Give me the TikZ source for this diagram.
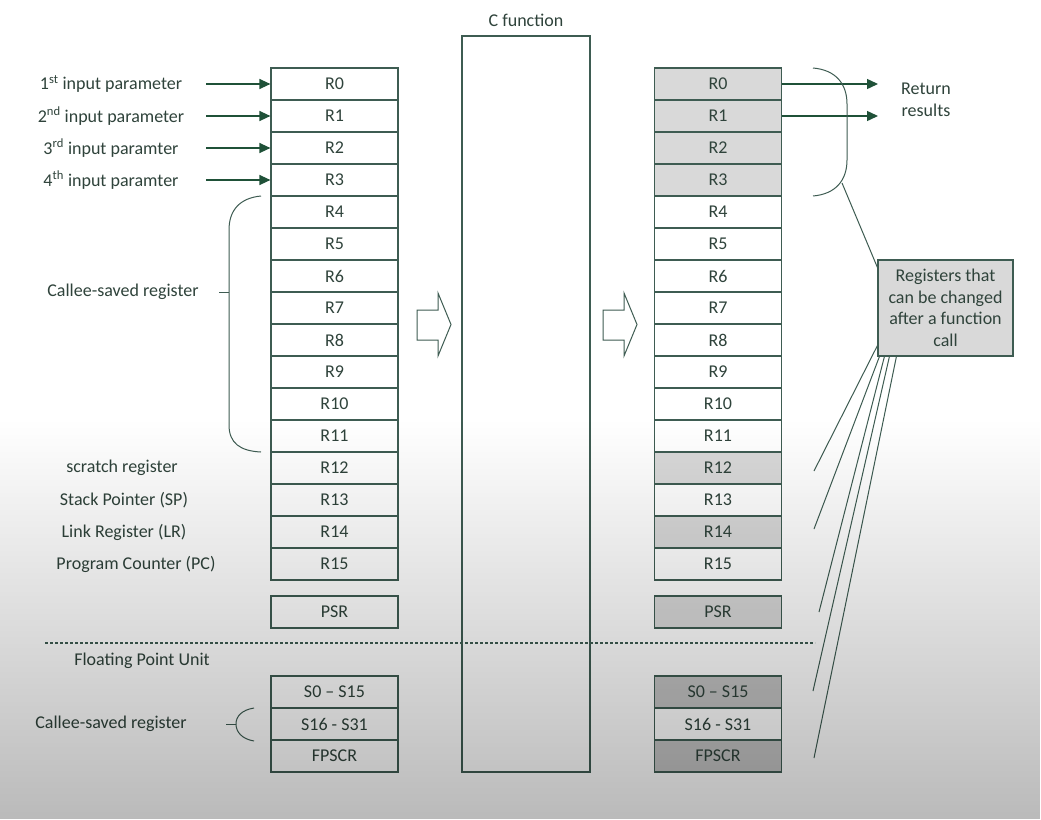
\documentclass[tikz,border=0pt]{standalone}
\usepackage{fontspec}
\setmainfont{Carlito}
\usetikzlibrary{arrows.meta,fadings}
\definecolor{linec}{HTML}{3E5C52}
\definecolor{txtc}{HTML}{2F433B}
\definecolor{arrc}{HTML}{1F5138}
\definecolor{shadeA}{HTML}{D9D9D9}
\definecolor{shadeB}{HTML}{C4C4C4}
\tikzfading[name=fadedown, top color=transparent!100, bottom color=transparent!0]
\begin{document}
\begin{tikzpicture}[x=1pt,y=-1pt,
  every node/.style={text=txtc, font=\fontsize{18}{21.5}\selectfont},
  reg/.style={draw=linec, line width=1.2pt, minimum width=127pt, minimum height=32pt, inner sep=0pt},
  lbl/.style={inner sep=0pt},
  inarrow/.style={draw=arrc, line width=1.4pt, -{Triangle[length=11pt,width=10pt]}},
  guide/.style={draw=linec, line width=1pt},
  hollow/.style={draw=linec, line width=1pt, fill=white, line join=miter}
]
\useasboundingbox (0,0) rectangle (1041,819);
\fill[white] (0,0) rectangle (1041,819);

% C function box
\node[draw=linec, line width=1.2pt, minimum width=128pt, minimum height=736pt, inner sep=0pt, fill=white] (cf) at (526,404) {};
\node[lbl] (cflbl) at (526,20) {C function};

% left register column
\foreach \i in {0,...,15}
  \node[reg, fill=white] (L\i) at (334.5,84+32*\i) {R\i};
\node[reg, fill=white] (LPSR) at (334.5,612) {PSR};
\node[reg, fill=white] (LS0) at (334.5,692) {S0 – S15};
\node[reg, fill=white] (LS16) at (334.5,724) {S16 - S31};
\node[reg, fill=white] (LFP) at (334.5,756) {FPSCR};

% right register column
\foreach \i/\f in {0/shadeA,1/shadeA,2/shadeA,3/shadeA,4/white,5/white,6/white,7/white,8/white,9/white,10/white,11/white,12/shadeA,13/white,14/shadeA,15/white}
  \node[reg, fill=\f] (R\i) at (718,84+32*\i) {R\i};
\node[reg, fill=shadeA] (RPSR) at (718,612) {PSR};
\node[reg, fill=shadeB] (RS0) at (718,692) {S0 – S15};
\node[reg, fill=white] (RS16) at (718,724) {S16 - S31};
\node[reg, fill=shadeB] (RFP) at (718,756) {FPSCR};

% hollow arrows
\draw[hollow] (417,310) -- (438,310) -- (438,293) -- (451,324.5) -- (438,356) -- (438,340) -- (417,340) -- cycle;
\draw[hollow] (603,310) -- (624,310) -- (624,293) -- (637,324.5) -- (624,356) -- (624,340) -- (603,340) -- cycle;

% input parameters
\node[lbl] (p1) at (111,84) {1\textsuperscript{st} input parameter};
\node[lbl] (p2) at (111,116) {2\textsuperscript{nd} input parameter};
\node[lbl] (p3) at (111,148) {3\textsuperscript{rd} input paramter};
\node[lbl] (p4) at (111,180) {4\textsuperscript{th} input paramter};
\foreach \i in {0,...,3} {
  \coordinate (a\i) at (206,84+32*\i);
  \draw[inarrow] (a\i) -- (L\i.west);
}

% left labels
\node[lbl] (cs1) at (123,292) {Callee-saved register};
\node[lbl] (scr) at (122,468) {scratch register};
\node[lbl] (sp) at (124,500) {Stack Pointer (SP)};
\node[lbl] (lr) at (124,532) {Link Register (LR)};
\node[lbl] (pc) at (136,564) {Program Counter (PC)};
\node[lbl] (fpu) at (142,661) {Floating Point Unit};
\node[lbl] (cs2) at (111,724) {Callee-saved register};

% left brace
\draw[guide] (261,196) .. controls (240,198) and (229,210) .. (229,230) -- (229,425) .. controls (229,443) and (240,451) .. (261,452);
\draw[guide] (219,292) -- (229,292);
% small brace
\draw[guide] (254,708) .. controls (242,710) and (236,716) .. (236,724) .. controls (236,732) and (242,739) .. (254,741);
\draw[guide] (226,724) -- (236,724);

% dashed separator
\coordinate (d1) at (45,643);
\coordinate (d2) at (815,643);
\draw[draw=linec, line width=1.2pt, dash pattern=on 3pt off 2pt] (d1) -- (d2);

% return results
\coordinate (ret0) at (878,84);
\coordinate (ret1) at (878,116);
\draw[inarrow] (R0.east) -- (ret0);
\draw[inarrow] (R1.east) -- (ret1);
\node[lbl, align=center] (ret) at (926,100) {Return\\results};

% right brace
\draw[guide] (813,68) .. controls (836,70) and (847,84) .. (847,104) -- (847,160) .. controls (847,180) and (836,194) .. (813,196);
\coordinate (bp) at (842,183);

% changed box
\node[draw=linec, fill=shadeA, line width=1.2pt, minimum width=135pt, minimum height=96pt, inner sep=0pt, align=center] (chg) at (945.5,308) {Registers that\\can be changed\\after a function\\call};
\draw[guide] (bp) -- ([yshift=-8pt]chg.north west);

% fan lines
\coordinate (f1) at (814,471);
\coordinate (f2) at (814,529);
\coordinate (f3) at (819,612);
\coordinate (f4) at (813,691);
\coordinate (f5) at (814,758);
\draw[guide] ([yshift=11pt]chg.south west) -- (f1);
\draw[guide] ([xshift=2pt]chg.south west) -- (f2);
\draw[guide] ([xshift=7pt]chg.south west) -- (f3);
\draw[guide] ([xshift=12pt]chg.south west) -- (f4);
\draw[guide] ([xshift=19pt]chg.south west) -- (f5);

% darkening gradient of the screenshot
\fill[black, fill opacity=0.27, path fading=fadedown] (0,420) rectangle (1041,819);
\end{tikzpicture}
\end{document}
